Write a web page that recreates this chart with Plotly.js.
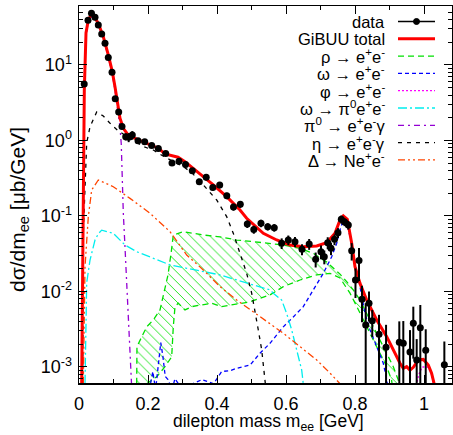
<!DOCTYPE html>
<html><head><meta charset="utf-8">
<script src="https://cdn.plot.ly/plotly-3.0.1.min.js"></script>
<style>html,body{margin:0;padding:0;background:#fff}</style>
</head><body><div id="chart" style="width:453px;height:435px"></div>
<script>
// ---- data ----
const dataMass = [0.0151,0.0261,0.0362,0.0464,0.0559,0.0658,0.0754,0.0849,0.0957,0.105,0.115,0.1246,0.1354,0.144,0.1545,0.171,0.1904,0.2107,0.2299,0.2513,0.2696,0.2899,0.3087,0.3284,0.3487,0.3687,0.3878,0.4078,0.4284,0.4478,0.4675,0.4878,0.5067,0.5275,0.547,0.566,0.5875,0.6067,0.626,0.6464,0.6672,0.686,0.7014,0.711,0.7209,0.7304,0.7406,0.7507,0.7603,0.770,0.7806,0.7904,0.8014,0.8116,0.8203,0.831,0.8406,0.850,0.8696,0.890,0.9284,0.940,0.9594,0.969,0.9788,0.9893,1.005,1.059];
const dataXsec = [5.6,39.1,48.4,42.9,33.9,25.8,19.4,12.6,8.0,3.58,2.38,1.53,1.12,1.10,1.18,0.99,0.96,0.86,0.78,0.67,0.504,0.532,0.481,0.398,0.284,0.326,0.238,0.257,0.185,0.1315,0.143,0.0783,0.0662,0.080,0.0722,0.070,0.0435,0.0481,0.0457,0.0362,0.0426,0.0268,0.0337,0.0289,0.0443,0.0373,0.0491,0.0601,0.0904,0.0833,0.076,0.0347,0.0142,0.0258,0.0079,0.0036,0.0070,0.0041,0.00271,0.00182,0.00212,0.00206,0.00158,0.00379,0.00124,0.00332,0.00166,0.00107];
const dataErr = [0.4,2.5,3,2.5,2,1.5,1.2,0.8,0.5,0.25,0.17,0.12,0.12,0.15,0.15,0.07,0.07,0.06,0.06,0.05,0.04,0.04,0.04,0.03,0.025,0.03,0.022,0.025,0.018,0.014,0.015,0.009,0.008,0.009,0.008,0.008,0.007,0.007,0.007,0.006,0.007,0.006,0.007,0.006,0.008,0.007,0.008,0.009,0.011,0.01,0.01,0.009,0.006,0.012,0.004,0.0034,0.003,0.0016,0.0022,0.0018,0.0019,0.002,0.0015,0.0025,0.0011,0.0033,0.0015,0.0011];

const totalMass = [0.007,0.0078,0.0125,0.0154,0.0203,0.027,0.0348,0.0443,0.0559,0.0704,0.0849,0.0965,0.1043,0.1122,0.1188,0.1284,0.1429,0.1719,0.2009,0.2299,0.2493,0.2687,0.287,0.3072,0.3313,0.3603,0.3893,0.4281,0.4667,0.486,0.5342,0.573,0.6116,0.6501,0.689,0.718,0.742,0.7565,0.7661,0.7777,0.7904,0.80,0.8145,0.834,0.863,0.8919,0.906,0.9209,0.9304,0.94,0.9498,0.9594,0.969,0.9835,0.998,1.0125,1.022,1.029,1.035];
const totalXsec = [0.0004,0.0006,0.163,4.67,26.5,39.4,45.9,43.6,35.6,23.7,13.6,8.15,5.16,3.11,1.97,1.45,1.18,1.02,0.90,0.79,0.662,0.624,0.600,0.524,0.429,0.332,0.258,0.180,0.12,0.0933,0.059,0.0481,0.0413,0.0392,0.0401,0.0443,0.059,0.0885,0.10,0.0904,0.0435,0.0213,0.0128,0.0077,0.0042,0.00252,0.00186,0.00137,0.00112,0.00096,0.00101,0.00091,0.00099,0.00124,0.00126,0.00106,0.00083,0.00061,0.0003];

const rhoUpperMass = [0.1672,0.168,0.1962,0.2154,0.2348,0.2443,0.258,0.268,0.2733,0.3023,0.3603,0.4087,0.4571,0.5052,0.5536,0.5922,0.6406,0.6791,0.718,0.7565,0.7759,0.795,0.8145,0.834,0.853,0.8725,0.8919,0.911,0.9255,0.93];
const rhoUpperXsec = [0.0006,0.00186,0.0034,0.0042,0.0057,0.0085,0.0166,0.035,0.056,0.062,0.056,0.053,0.048,0.0457,0.0435,0.0413,0.0373,0.032,0.0246,0.017,0.0135,0.0105,0.0077,0.0051,0.0034,0.00228,0.00152,0.00101,0.00067,0.0005];
const rhoLowerMass = [0.1962,0.2252,0.2493,0.2687,0.2733,0.2783,0.2878,0.3072,0.3267,0.3557,0.3846,0.4136,0.4426,0.4716,0.4957,0.5246,0.5536,0.5922,0.6406,0.689,0.7275,0.7565,0.7855,0.8145,0.834,0.853,0.8725,0.8919,0.906,0.91];
const rhoLowerXsec = [0.0006,0.00074,0.00101,0.00137,0.0034,0.0063,0.0070,0.0057,0.0063,0.0066,0.0070,0.0063,0.0066,0.0070,0.0073,0.0081,0.0090,0.0116,0.0142,0.0166,0.0174,0.0151,0.0095,0.0052,0.0035,0.00228,0.00152,0.00101,0.00067,0.0005];

const omegaMass = [0.20,0.214,0.222,0.232,0.237,0.243,0.25,0.258,0.27,0.278,0.30,0.33,0.356,0.39,0.4135,0.44,0.457,0.4957,0.5246,0.5536,0.5922,0.6212,0.6501,0.6791,0.7081,0.7325,0.747,0.7565,0.7661,0.7759,0.7855,0.80,0.8145,0.829,0.8435,0.8629,0.882,0.8919,0.896];
const omegaXsec = [0.0004,0.00087,0.0005,0.0012,0.0021,0.0014,0.00075,0.00068,0.0005,0.0007,0.0005,0.0006,0.00068,0.0006,0.00087,0.0009,0.00096,0.00106,0.00152,0.00206,0.0034,0.0046,0.0063,0.0105,0.0174,0.0289,0.0435,0.0653,0.0885,0.084,0.0532,0.0236,0.0116,0.0051,0.0031,0.00186,0.00112,0.00068,0.0005];

const phiMass = [0.975,0.985,0.995,1.01,1.02,1.025,1.03];
const phiXsec = [0.0005,0.0008,0.001,0.001,0.00085,0.0007,0.0005];

const omegaDalitzMass = [0.0174,0.0223,0.0319,0.0464,0.0559,0.0658,0.0994,0.1333,0.1672,0.2154,0.2638,0.3122,0.3603,0.4087,0.4571,0.5052,0.5536,0.5632,0.5875,0.602,0.6165,0.631,0.6455,0.652];
const omegaDalitzXsec = [0.0006,0.013,0.026,0.048,0.058,0.065,0.059,0.0413,0.0337,0.0275,0.0225,0.0203,0.0183,0.0166,0.0142,0.0122,0.0105,0.0095,0.0077,0.0051,0.0031,0.00168,0.00091,0.0005];

const pi0Mass = [0.0078,0.0125,0.0154,0.0203,0.027,0.0348,0.0443,0.0559,0.0704,0.0849,0.0965,0.1043,0.1122,0.1188,0.1225,0.1245,0.1284,0.1333,0.1383,0.143,0.1478,0.1522];
const pi0Xsec = [0.0006,0.15,4.3,25,37.5,43.5,41.5,34,22.5,12.8,7.5,4.6,2.7,1.5,0.9,0.30,0.11,0.039,0.0142,0.0052,0.00186,0.0006];

const etaMass = [0.0107,0.0125,0.0223,0.0319,0.0513,0.0704,0.0948,0.1139,0.1478,0.1864,0.2154,0.2493,0.3023,0.3267,0.3603,0.3991,0.4281,0.4472,0.4667,0.486,0.5006,0.5101,0.5197,0.5296,0.5371,0.542];
const etaXsec = [0.0006,0.0596,0.927,1.52,2.38,2.11,1.60,1.34,1.07,0.828,0.748,0.60,0.45,0.375,0.258,0.163,0.098,0.059,0.032,0.0174,0.00946,0.00569,0.00309,0.00168,0.00083,0.0005];

const deltaMass = [0.0125,0.0174,0.027,0.0368,0.0559,0.0994,0.1478,0.2058,0.2638,0.3122,0.3603,0.4087,0.4571,0.5052,0.5536,0.5922,0.6406,0.689,0.7275,0.747,0.7565];
const deltaXsec = [0.0006,0.0211,0.098,0.221,0.30,0.244,0.171,0.1086,0.062,0.0304,0.0193,0.0116,0.0077,0.0054,0.0038,0.0028,0.00186,0.00124,0.00083,0.00067,0.0006];

const legendLabels = ['data','GiBUU total','ρ → e<sup>+</sup>e<sup>-</sup>','ω → e<sup>+</sup>e<sup>-</sup>','φ → e<sup>+</sup>e<sup>-</sup>','ω → π<sup>0</sup>e<sup>+</sup>e<sup>-</sup>','π<sup>0</sup> → e<sup>+</sup>e<sup>-</sup>γ','η → e<sup>+</sup>e<sup>-</sup>γ','Δ → Ne<sup>+</sup>e<sup>-</sup>'];
const yTickVals = [0.001,0.01,0.1,1,10];
const yTickText = ['10<sup>-3</sup>','10<sup>-2</sup>','10<sup>-1</sup>','10<sup>0</sup>','10<sup>1</sup>'];

// ---- styles ----
const GREEN='#00e000', BLUE='#0000ff', MAG='#ff00ff', CYAN='#00eeee', PURP='#9400d3', BLK='#000000', ORNG='#ff4500', RED='#ff0000';
const styles = [
  {c:BLK, d:'solid', w:1.5},
  {c:RED, d:'solid', w:3},
  {c:GREEN, d:'6px,4px', w:1.3},
  {c:BLUE, d:'4px,3px', w:1.3},
  {c:MAG, d:'2px,2px', w:1.3},
  {c:CYAN, d:'9px,3px,2px,3px', w:1.3},
  {c:PURP, d:'6px,4px,2px,4px', w:1.3},
  {c:BLK, d:'4px,5px', w:1.3},
  {c:ORNG, d:'7px,3px,2px,3px,2px,3px', w:1.3}
];

function line(x,y,s,extra){return Object.assign({x:x,y:y,type:'scatter',mode:'lines',line:{color:s.c,dash:s.d,width:s.w},showlegend:false,hoverinfo:'skip'},extra||{});}

const traces = [
  line(rhoLowerMass,rhoLowerXsec,styles[2]),
  line(rhoUpperMass,rhoUpperXsec,styles[2],{fill:'tonexty',fillcolor:'rgba(255,255,255,0)',fillpattern:{shape:'\\',fgcolor:GREEN,bgcolor:'rgba(255,255,255,0)',size:7,solidity:0.12}}),
  line(omegaMass,omegaXsec,styles[3]),
  line(phiMass,phiXsec,styles[4]),
  line(omegaDalitzMass,omegaDalitzXsec,styles[5]),
  line(pi0Mass,pi0Xsec,styles[6]),
  line(etaMass,etaXsec,styles[7]),
  line(deltaMass,deltaXsec,styles[8]),
  line(totalMass,totalXsec,styles[1]),
  {x:dataMass,y:dataXsec,type:'scatter',mode:'markers',marker:{color:'#000',size:7},
   error_y:{type:'data',array:dataErr,visible:true,color:'#000',thickness:2,width:0},showlegend:false,hoverinfo:'skip'}
];

// ---- layout ----
const L=79, R=452, T=6, B=383, W=R-L, H=B-T;
const px2x = p => (p-L)/W, py2y = p => (B-p)/H;
const FONT = 'Liberation Sans, Arial, sans-serif';

const minorY=[];
for(let e=-4;e<=1;e++){for(let k=2;k<=9;k++){minorY.push(k*Math.pow(10,e));}}

const annotations=[], shapes=[];
legendLabels.forEach((lab,i)=>{
  const yy = py2y(21.5 + i*17.3);
  annotations.push({xref:'paper',yref:'paper',x:px2x(387),y:yy,xanchor:'right',yanchor:'middle',text:lab,showarrow:false,font:{family:FONT,size:16.5,color:'#000'}});
  const s=styles[i];
  shapes.push({type:'line',xref:'paper',yref:'paper',x0:px2x(398),x1:px2x(435),y0:yy,y1:yy,line:{color:s.c,width:s.w,dash:s.d}});
  if(i===0){
    shapes.push({type:'circle',xref:'paper',yref:'paper',xsizemode:'pixel',ysizemode:'pixel',xanchor:px2x(416.5),yanchor:yy,x0:-3,x1:3,y0:-3,y1:3,fillcolor:'#000',line:{color:'#000',width:1}});
  }
});
annotations.push({xref:'paper',yref:'paper',x:px2x(19),y:py2y(210),xanchor:'center',yanchor:'middle',textangle:-90,text:'dσ/dm<sub>ee</sub> [μb/GeV]',showarrow:false,font:{family:FONT,size:21,color:'#000'}});
annotations.push({xref:'paper',yref:'paper',x:px2x(268),y:py2y(423),xanchor:'center',yanchor:'middle',text:'dilepton mass m<sub>ee</sub> [GeV]',showarrow:false,font:{family:FONT,size:17.5,color:'#000'}});

const layout = {
  width:453,height:435,
  margin:{l:L,r:453-R,t:T,b:435-B,pad:0},
  paper_bgcolor:'#fff',plot_bgcolor:'#fff',
  font:{family:FONT,size:17,color:'#000'},
  showlegend:false,
  xaxis:{range:[0,(R-L)/345],tickmode:'linear',tick0:0,dtick:0.2,ticks:'inside',ticklen:8,tickwidth:1,tickcolor:'#000',
    minor:{ticks:'inside',ticklen:4,dtick:0.1,tick0:0,tickcolor:'#000',tickwidth:1},
    showline:true,linecolor:'#000',linewidth:1.5,mirror:'allticks',showgrid:false,zeroline:false,automargin:false,
    ticklabelstandoff:4,tickfont:{family:FONT,size:18}},
  yaxis:{type:'log',range:[-3.212,1.781],tickmode:'array',tickvals:yTickVals,ticktext:yTickText,ticks:'inside',ticklen:8,tickwidth:1,tickcolor:'#000',
    minor:{ticks:'inside',ticklen:4,tickmode:'array',tickvals:minorY,tickcolor:'#000',tickwidth:1},
    showline:true,linecolor:'#000',linewidth:1.5,mirror:'allticks',showgrid:false,zeroline:false,automargin:false,
    ticklabelstandoff:2,tickfont:{family:FONT,size:18}},
  annotations:annotations,shapes:shapes
};
Plotly.newPlot('chart',traces,layout,{staticPlot:true,displayModeBar:false});
</script></body></html>
